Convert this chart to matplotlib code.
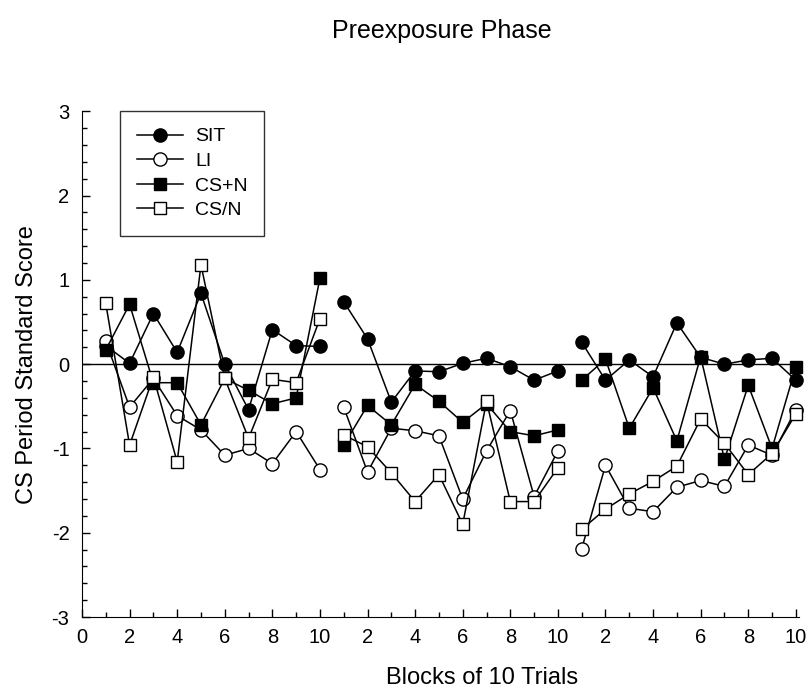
import numpy as np
import matplotlib
matplotlib.use("Agg")
import matplotlib.pyplot as plt
from matplotlib.ticker import MultipleLocator

plt.rcParams['font.family'] = ['Liberation Sans', 'DejaVu Sans']
plt.rcParams['axes.unicode_minus'] = False

# three preexposure sessions of 10 blocks each
blocks = np.arange(1, 31)

sit = [0.22, 0.01, 0.60, 0.14, 0.84, 0.00, -0.54, 0.41, 0.22, 0.21,
       0.74, 0.30, -0.45, -0.08, -0.09, 0.01, 0.07, -0.03, -0.19, -0.08,
       0.26, -0.19, 0.05, -0.15, 0.49, 0.08, 0.00, 0.05, 0.07, -0.19]
li = [0.27, -0.51, -0.17, -0.61, -0.78, -1.08, -1.00, -1.18, -0.80, -1.25,
      -0.51, -1.28, -0.76, -0.79, -0.85, -1.60, -1.03, -0.55, -1.57, -1.03,
      -2.19, -1.20, -1.71, -1.75, -1.46, -1.38, -1.45, -0.96, -1.08, -0.54]
csn_plus = [0.17, 0.71, -0.22, -0.22, -0.72, -0.17, -0.31, -0.47, -0.40, 1.02,
            -0.96, -0.49, -0.72, -0.24, -0.44, -0.69, -0.47, -0.80, -0.85, -0.78,
            -0.19, 0.06, -0.76, -0.28, -0.91, 0.09, -1.13, -0.25, -1.00, -0.03]
csn_slash = [0.72, -0.96, -0.15, -1.16, 1.18, -0.17, -0.88, -0.18, -0.22, 0.54,
             -0.84, -0.98, -1.29, -1.63, -1.31, -1.90, -0.44, -1.63, -1.63, -1.23,
             -1.96, -1.72, -1.54, -1.39, -1.21, -0.65, -0.94, -1.31, -1.06, -0.59]

xtick_pos = np.arange(0, 31, 2)
xtick_labels = ['0', '2', '4', '6', '8', '10', '2', '4', '6', '8', '10',
                '2', '4', '6', '8', '10']

series = [
    ("SIT", sit, dict(marker='o', mfc='black', ms=9.5)),
    ("LI", li, dict(marker='o', mfc='white', ms=9.5)),
    ("CS+N", csn_plus, dict(marker='s', mfc='black', ms=8)),
    ("CS/N", csn_slash, dict(marker='s', mfc='white', ms=8)),
]

fig = plt.figure(figsize=(8.07, 6.91), dpi=100)
ax = fig.add_axes([0.1016, 0.107, 0.889, 0.732])

for name, vals, style in series:
    vals = np.array(vals)
    for s in range(3):
        sl = slice(s * 10, s * 10 + 10)
        ax.plot(blocks[sl], vals[sl], color='black', lw=1.1, mec='black',
                mew=1.0, clip_on=False, label=name if s == 0 else None, **style)

ax.axhline(0, color='black', lw=1.0, zorder=0)

ax.set_xlim(0, 30.15)
ax.set_ylim(-3, 3)
ax.set_xticks(xtick_pos)
ax.set_xticklabels(xtick_labels)
ax.xaxis.set_minor_locator(MultipleLocator(1))
ax.yaxis.set_major_locator(MultipleLocator(1))
ax.yaxis.set_minor_locator(MultipleLocator(0.2))
ax.tick_params(which='both', direction='in', labelsize=14.5, width=1)
ax.tick_params(which='major', length=6)
ax.tick_params(which='minor', length=3.5)
ax.tick_params(axis='x', which='major', pad=8)
ax.tick_params(axis='y', which='major', pad=9)
ax.spines['top'].set_visible(False)
ax.spines['right'].set_visible(False)

ax.set_xlabel("Blocks of 10 Trials", fontsize=17)
ax.xaxis.set_label_coords(0.558, -0.099)
ax.set_ylabel("CS Period Standard Score", fontsize=17, labelpad=10)
fig.text(0.548, 0.955, "Preexposure Phase", fontsize=18, ha='center', va='center')

leg = ax.legend(loc='upper left', bbox_to_anchor=(0.053, 1.0), borderaxespad=0,
                fontsize=14, frameon=True, fancybox=False, edgecolor='black',
                handlelength=2.4, handletextpad=0.6, borderpad=0.85,
                labelspacing=0.36)
leg.get_frame().set_linewidth(1.0)

fig.savefig("out.png", dpi=100)
